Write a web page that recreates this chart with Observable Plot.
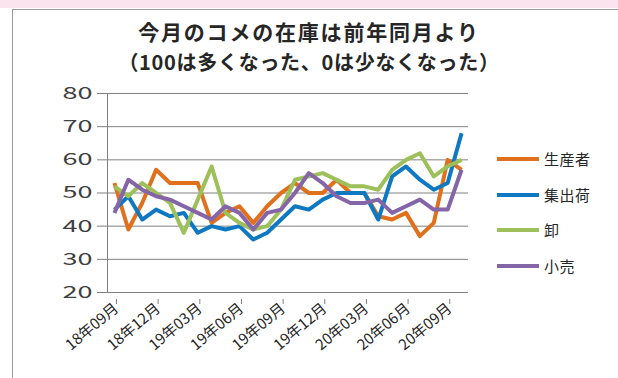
<!DOCTYPE html>
<html><head><meta charset="utf-8">
<script src="https://cdn.jsdelivr.net/npm/d3@7"></script>
<script src="https://cdn.jsdelivr.net/npm/@observablehq/plot@0.6"></script>
<style>
body{margin:0;background:#fff;font-family:"Noto Sans CJK JP","Noto Sans",sans-serif;}
#wrap{position:relative;width:618px;height:378px;overflow:hidden;background:#fff;}
#pink{position:absolute;left:0;top:0;width:618px;height:8px;background:#fbe4ee;}
#box{position:absolute;left:12px;top:9px;width:640px;height:400px;border:1px solid #9a9a9a;box-sizing:border-box;}
.t{position:absolute;left:0;width:618px;text-align:center;font-weight:bold;color:#262626;white-space:nowrap;}
#plot{position:absolute;left:0;top:0;}
#legend{position:absolute;left:497px;top:0;font-size:15px;color:#262626;}
.li{position:absolute;left:0;white-space:nowrap;display:flex;align-items:center;letter-spacing:0.5px;line-height:20px;}
.li span.sw{display:inline-block;width:42px;height:4px;margin-right:5px;}
</style></head>
<body>
<div id="wrap">
<div id="pink"></div>
<div id="box"></div>
<div class="t" style="top:19px;height:25px;line-height:25px;font-size:21px;letter-spacing:1.8px">今月のコメの在庫は前年同月より</div>
<div class="t" style="top:50px;height:24px;line-height:24px;font-size:20px;letter-spacing:0.7px">（100は多くなった、0は少なくなった）</div>
<div id="plot"></div>
<div id="legend"></div>
</div>
<script>
const months = ["18年09月","18年10月","18年11月","18年12月","19年01月","19年02月","19年03月","19年04月","19年05月","19年06月","19年07月","19年08月","19年09月","19年10月","19年11月","19年12月","20年01月","20年02月","20年03月","20年04月","20年05月","20年06月","20年07月","20年08月","20年09月","20年10月"];
const tickMonths = ["18年09月","18年12月","19年03月","19年06月","19年09月","19年12月","20年03月","20年06月","20年09月"];
const seriesNames = ["生産者","集出荷","卸","小売"];
const seriesColors = ["#e0701c","#0f78c2","#9dc05a","#8466a8"];
const producer = [53,39,47,57,53,53,53,41,44,46,41,46,50,53,50,50,54,50,50,43,42,44,37,41,60,57];
const collector = [45,49,42,45,43,44,38,40,39,40,36,38,42,46,45,48,50,50,50,42,55,58,54,51,53,68];
const wholesale = [52,49,53,50,47,38,48,58,44,41,39,40,45,54,55,56,54,52,52,51,57,60,62,55,58,60];
const retail = [44,54,51,49,48,46,44,42,46,44,39,44,45,50,56,53,49,47,47,48,44,46,48,45,45,57];
const yTicks = [20,30,40,50,60,70,80];

const seriesValues = [producer, collector, wholesale, retail];
const data = seriesNames.flatMap((s, k) => seriesValues[k].map((v, i) => ({series: s, idx: i + 0.5, month: months[i], value: v})));
const tickPos = tickMonths.map(m => months.indexOf(m));

const chart = Plot.plot({
  width: 618, height: 378,
  marginLeft: 107, marginRight: 150, marginTop: 93, marginBottom: 86,
  style: {background: "transparent", fontFamily: "'Noto Sans CJK JP', sans-serif", color: "#404040"},
  x: {domain: [0, months.length]},
  y: {domain: [20, 80]},
  color: {domain: seriesNames, range: seriesColors},
  marks: [
    Plot.gridY(yTicks, {stroke: "#808080", strokeOpacity: 1, strokeWidth: 1}),
    Plot.ruleX([0], {y1: 20, y2: 80, stroke: "#808080"}),
    Plot.axisY({ticks: yTicks, tickSize: 10, tickPadding: 5, fontSize: 17, stroke: "#808080", label: null, fill: "#404040"}),
    Plot.axisX({ticks: tickPos, tickFormat: d => months[d], tickSize: 5, tickRotate: -40, fontSize: 15, stroke: "#808080", label: null, fill: "#262626", tickPadding: 2, dx: 9, dy: 7}),
    Plot.line(data, {x: "idx", y: "value", z: "series", stroke: "series", strokeWidth: 4, strokeLinejoin: "round", strokeLinecap: "butt"})
  ]
});
document.getElementById("plot").appendChild(chart);
// widen the y tick digits like the reference's wide rounded face
d3.select(chart).selectAll('g[aria-label="y-axis tick label"] text')
  .attr("textLength", 30).attr("lengthAdjust", "spacingAndGlyphs");

const legend = document.getElementById("legend");
const legendTops = [149, 185, 220, 256];
seriesNames.forEach((s, k) => {
  const d = document.createElement("div");
  d.className = "li";
  d.style.top = legendTops[k] + "px";
  d.innerHTML = `<span class="sw" style="background:${seriesColors[k]}"></span>${s}`;
  legend.appendChild(d);
});
</script>
</body></html>
